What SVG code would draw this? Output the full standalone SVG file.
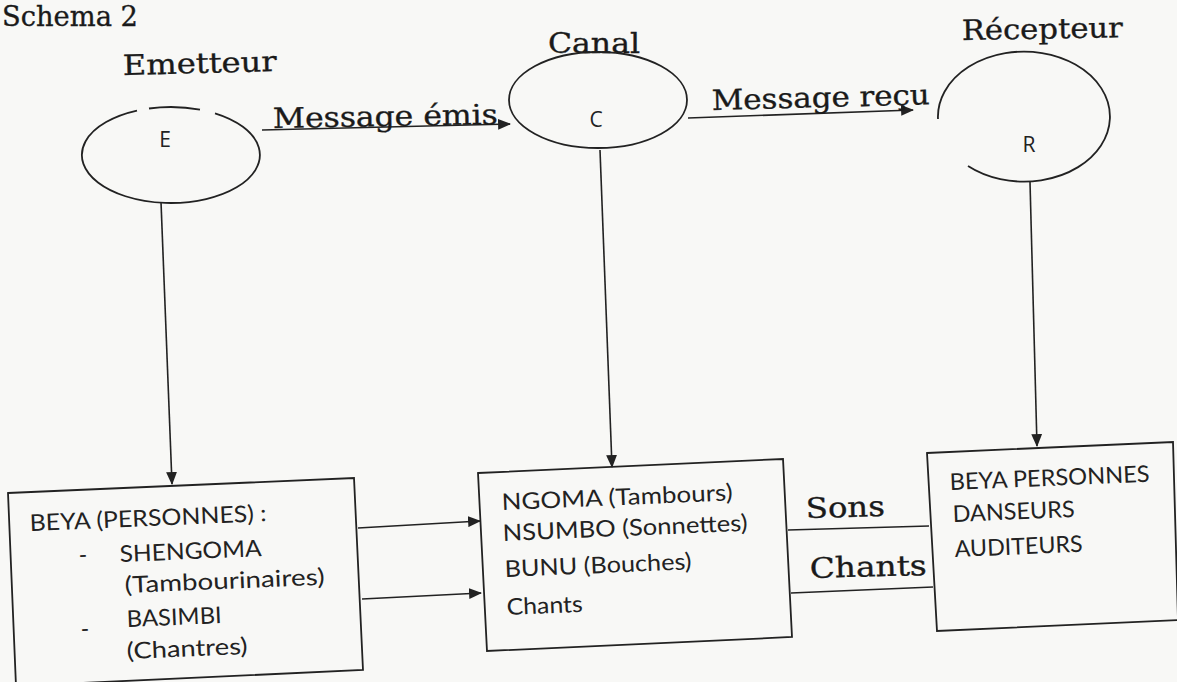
<svg xmlns="http://www.w3.org/2000/svg" width="1177" height="682" viewBox="0 0 1177 682">
<defs>
<style>
.serif{font-family:"DejaVu Serif","Liberation Serif",serif;font-size:28px;fill:#1a1a1a;stroke:#1a1a1a;stroke-width:0.35;}
.sans{font-family:Lato,"Open Sans","Liberation Sans",sans-serif;font-size:23px;fill:#222;}
.lbl{font-family:"Open Sans","Liberation Sans",sans-serif;font-size:21px;fill:#222;}
.shape{fill:none;stroke:#222;stroke-width:1.8;}
.conn{fill:none;stroke:#222;stroke-width:1.6;}
</style>
<marker id="ah" viewBox="0 0 12 10" refX="11" refY="5" markerWidth="13" markerHeight="11" markerUnits="userSpaceOnUse" orient="auto">
<path d="M0,0 L12,5 L0,10 Z" fill="#222"/>
</marker>
</defs>
<rect x="0" y="0" width="1177" height="682" fill="#f8f8f6"/>

<text class="serif" x="2" y="26" font-size="26" textLength="136" lengthAdjust="spacingAndGlyphs">Schema 2</text>

<g id="emetteur">
<text class="serif" x="123" y="75" textLength="154" lengthAdjust="spacingAndGlyphs" transform="rotate(-1.5 123 75)">Emetteur</text>
<path class="shape" stroke-width="2.2" d="M137,110.6 A89,48 0 1,0 215,113.3 M149,108.5 A89,48 0 0,1 200,109.7"/>
<text class="lbl" x="165" y="147" text-anchor="middle">E</text>
</g>

<g id="canal">
<text class="serif" x="548" y="53" font-size="26" textLength="92" lengthAdjust="spacingAndGlyphs">Canal</text>
<ellipse class="shape" cx="598" cy="100" rx="89" ry="48"/>
<text class="lbl" x="596" y="127" text-anchor="middle">C</text>
</g>

<g id="recepteur">
<text class="serif" x="962" y="40" textLength="161" lengthAdjust="spacingAndGlyphs" transform="rotate(-1 962 40)">Récepteur</text>
<path class="shape" stroke-width="1.5" d="M968,166 A86,65 0 1,0 938,119"/>
<text class="lbl" x="1029" y="152" text-anchor="middle" font-size="16" fill="#666">R</text>
</g>

<g id="box-emetteur">
<polygon class="shape" points="8,493 354,478 363,670 16,686"/>
<text class="sans" x="30" y="531" textLength="237" lengthAdjust="spacingAndGlyphs" transform="rotate(-2.4 30 531)">BEYA (PERSONNES) :</text>
<text class="sans" x="79" y="563" transform="rotate(-2.4 79 563)">-</text>
<text class="sans" x="120" y="562" textLength="142" lengthAdjust="spacingAndGlyphs" transform="rotate(-2.4 120 562)">SHENGOMA</text>
<text class="sans" x="125" y="593" textLength="200" lengthAdjust="spacingAndGlyphs" transform="rotate(-2.4 125 593)">(Tambourinaires)</text>
<text class="sans" x="81" y="637" transform="rotate(-2.4 81 637)">-</text>
<text class="sans" x="127" y="627" textLength="95" lengthAdjust="spacingAndGlyphs" transform="rotate(-2.4 127 627)">BASIMBI</text>
<text class="sans" x="127" y="659" textLength="121" lengthAdjust="spacingAndGlyphs" transform="rotate(-2.4 127 659)">(Chantres)</text>
</g>

<g id="box-canal">
<polygon class="shape" points="478,473 783,459 792,637 487,651"/>
<text class="sans" x="502" y="510" textLength="231" lengthAdjust="spacingAndGlyphs" transform="rotate(-2.4 502 510)">NGOMA (Tambours)</text>
<text class="sans" x="503" y="541" textLength="245" lengthAdjust="spacingAndGlyphs" transform="rotate(-2.4 503 541)">NSUMBO (Sonnettes)</text>
<text class="sans" x="505" y="577" textLength="187" lengthAdjust="spacingAndGlyphs" transform="rotate(-2.4 505 577)">BUNU (Bouches)</text>
<text class="sans" x="507" y="615" textLength="76" lengthAdjust="spacingAndGlyphs" transform="rotate(-2.4 507 615)">Chants</text>
</g>

<g id="box-recepteur">
<polygon class="shape" points="927,453 1173,442 1178,620 937,631"/>
<text class="sans" x="950" y="490" textLength="200" lengthAdjust="spacingAndGlyphs" transform="rotate(-2.4 950 490)">BEYA PERSONNES</text>
<text class="sans" x="953" y="522" textLength="122" lengthAdjust="spacingAndGlyphs" transform="rotate(-2.4 953 522)">DANSEURS</text>
<text class="sans" x="955" y="557" textLength="128" lengthAdjust="spacingAndGlyphs" transform="rotate(-2.4 955 557)">AUDITEURS</text>
</g>

<g id="connectors">
<line class="conn" x1="161" y1="202" x2="172" y2="484" marker-end="url(#ah)"/>
<line class="conn" stroke-width="2" x1="262" y1="130" x2="510" y2="124" marker-end="url(#ah)"/>
<line class="conn" x1="600" y1="150" x2="612" y2="467" marker-end="url(#ah)"/>
<line class="conn" x1="688" y1="118" x2="913" y2="110" marker-end="url(#ah)"/>
<line class="conn" x1="1030" y1="182" x2="1037" y2="446" marker-end="url(#ah)"/>
<line class="conn" x1="358" y1="528" x2="480" y2="521" marker-end="url(#ah)"/>
<line class="conn" x1="362" y1="599" x2="481" y2="593" marker-end="url(#ah)"/>
<line class="conn" x1="788" y1="530" x2="929" y2="526"/>
<line class="conn" x1="791" y1="593" x2="933" y2="587"/>
<text class="serif" x="273" y="128" textLength="225" lengthAdjust="spacingAndGlyphs" transform="rotate(-1 273 128)">Message émis</text>
<text class="serif" x="712" y="110" textLength="218" lengthAdjust="spacingAndGlyphs" transform="rotate(-1.5 712 110)">Message reçu</text>
<text class="serif" x="806" y="518" textLength="79" lengthAdjust="spacingAndGlyphs" transform="rotate(-1.5 806 518)">Sons</text>
<text class="serif" x="810" y="578" textLength="117" lengthAdjust="spacingAndGlyphs" transform="rotate(-1.5 810 578)">Chants</text>
</g>
</svg>
